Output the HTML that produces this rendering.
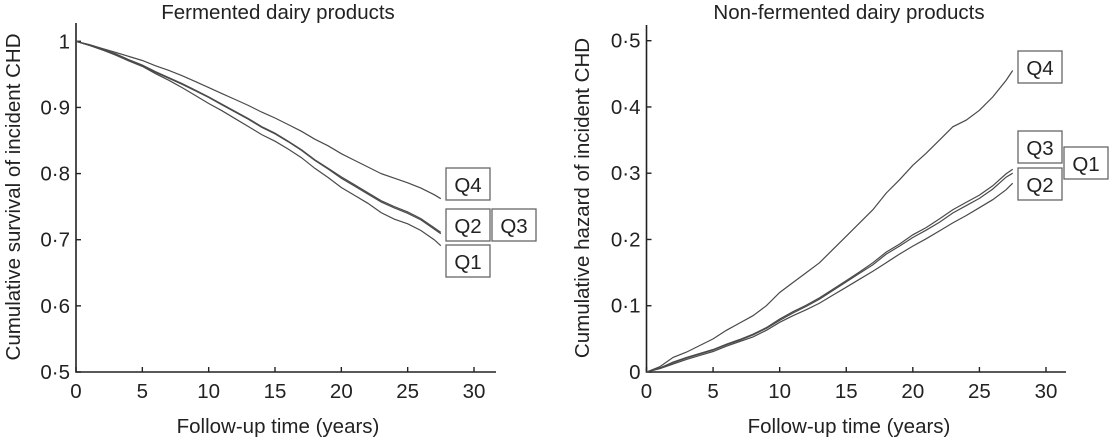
<!DOCTYPE html>
<html><head><meta charset="utf-8"><style>
body{margin:0;background:#fff;}
svg{display:block;font-family:"Liberation Sans",Arial,sans-serif;}
</style></head><body>
<svg id="chart" width="1109" height="438" viewBox="0 0 1109 438">
</svg>
<script>
const years = [0,1,2,3,4,5,6,7,8,9,10,11,12,13,14,15,16,17,18,19,20,21,22,23,24,25,26,27,27.5];
// Left: cumulative survival
const survQ4 = [1,0.995,0.989,0.983,0.977,0.971,0.963,0.956,0.948,0.939,0.930,0.921,0.912,0.903,0.893,0.884,0.874,0.864,0.852,0.842,0.830,0.820,0.810,0.800,0.793,0.786,0.778,0.768,0.762];
const survQ2 = [1,0.994,0.987,0.980,0.971,0.963,0.953,0.944,0.935,0.925,0.915,0.904,0.893,0.882,0.870,0.860,0.848,0.835,0.820,0.807,0.793,0.781,0.769,0.757,0.748,0.740,0.730,0.716,0.709];
const survQ3 = [1,0.994,0.988,0.981,0.972,0.964,0.954,0.945,0.936,0.926,0.916,0.905,0.894,0.883,0.871,0.861,0.849,0.836,0.821,0.808,0.795,0.783,0.771,0.759,0.750,0.742,0.732,0.718,0.711];
const survQ1 = [1,0.994,0.987,0.979,0.970,0.962,0.951,0.941,0.930,0.918,0.906,0.895,0.883,0.871,0.859,0.849,0.837,0.824,0.808,0.794,0.779,0.767,0.755,0.741,0.731,0.724,0.714,0.700,0.691];
// Right: cumulative hazard
const hazQ4 = [0,0.008,0.022,0.030,0.040,0.050,0.063,0.074,0.085,0.100,0.120,0.135,0.150,0.165,0.185,0.205,0.225,0.245,0.270,0.290,0.312,0.330,0.350,0.370,0.380,0.395,0.415,0.440,0.455];
const hazQ1 = [0,0.006,0.014,0.021,0.027,0.033,0.041,0.048,0.056,0.066,0.078,0.089,0.099,0.110,0.123,0.136,0.149,0.162,0.178,0.190,0.203,0.214,0.226,0.240,0.251,0.262,0.276,0.294,0.300];
const hazQ3 = [0,0.006,0.015,0.022,0.028,0.034,0.042,0.049,0.057,0.067,0.080,0.091,0.101,0.112,0.125,0.138,0.151,0.165,0.181,0.193,0.207,0.218,0.231,0.245,0.256,0.267,0.281,0.299,0.306];
const hazQ2 = [0,0.005,0.012,0.019,0.025,0.031,0.039,0.046,0.053,0.063,0.075,0.085,0.094,0.104,0.116,0.128,0.140,0.152,0.165,0.178,0.190,0.201,0.213,0.225,0.236,0.248,0.260,0.275,0.285];
const xTicks = [0,5,10,15,20,25,30];
const survTicks = [0.5,0.6,0.7,0.8,0.9,1];
const survTickLabels = ["0·5","0·6","0·7","0·8","0·9","1"];
const hazTicks = [0,0.1,0.2,0.3,0.4,0.5];
const hazTickLabels = ["0","0·1","0·2","0·3","0·4","0·5"];

const NS="http://www.w3.org/2000/svg";
const svg=document.getElementById('chart');
const FS=20.5;
function mk(tag,attrs,parent){const e=document.createElementNS(NS,tag);for(const k in attrs)e.setAttribute(k,attrs[k]);(parent||svg).appendChild(e);return e;}
function txt(parent,x,y,anchor,str,rot){
  const t=mk('text',{x:0,y:0,'text-anchor':anchor,'font-size':FS,fill:'#222',
    transform:rot?`translate(${x},${y}) rotate(-90)`:`translate(${x},${y})`},parent);
  t.textContent=str;
  return t;
}

function panel(cfg){
  const g=mk('g',{});
  
  
  const sx=v=>cfg.x0+v*(cfg.x30-cfg.x0)/30;
  const sy=v=>cfg.yb+(v-cfg.ymin)*(cfg.yt-cfg.yb)/(cfg.ymax-cfg.ymin);
  const ax=mk('path',{d:`M${cfg.x0},${cfg.top} V${cfg.yb} H${cfg.xend}`,fill:'none',stroke:'#222','stroke-width':1.6},g);
  
  
  xTicks.forEach(t=>{
    const x=sx(t);
    const tk=mk('line',{x1:x,x2:x,y1:cfg.yb,y2:cfg.yb-5,stroke:'#222','stroke-width':1.4},g);
    
    
    const tl=txt(g,x,398,'middle',String(t));
    
    
  });
  cfg.yTicks.forEach((t,i)=>{
    const y=sy(t);
    const tk=mk('line',{x1:cfg.x0,x2:cfg.x0+5,y1:y,y2:y,stroke:'#222','stroke-width':1.4},g);
    
    
    const tl=txt(g,cfg.x0-6,y+7,'end',cfg.yLabels[i]);
    
    
  });
  const ti=txt(g,cfg.tx,19,'middle',cfg.title);
  
  
  const xt=txt(g,cfg.tx,433,'middle','Follow-up time (years)');
  
  
  const yt=txt(g,cfg.ytx,cfg.yty,'middle',cfg.ytitle,true);
  
  
  cfg.series.forEach(s=>{
    const pts=years.map((t,i)=>sx(t).toFixed(1)+','+sy(s.v[i]).toFixed(1)).join(' ');
    const pl=mk('polyline',{points:pts,fill:'none',stroke:'#4a4a4a','stroke-width':1.2},g);
    
    
  });
  cfg.boxes.forEach(b=>{
    const r=mk('rect',{x:b[1],y:b[2],width:44,height:32,fill:'#fff',stroke:'#666','stroke-width':1.3},g);
    
    
    const tx=txt(g,b[1]+22,b[2]+24,'middle',b[0]);
    
    
  });
}
panel({name:'fermented-panel',x0:76,x30:474,xend:496,top:23,yb:372,yt:41.3,ymin:0.5,ymax:1,
  yTicks:survTicks,yLabels:survTickLabels,title:'Fermented dairy products',tx:278,
  ytitle:'Cumulative survival of incident CHD',ytx:20,yty:197,
  series:[{n:'Q4',v:survQ4},{n:'Q2',v:survQ2},{n:'Q3',v:survQ3},{n:'Q1',v:survQ1}],
  boxes:[['Q4',446,168],['Q2',446,209],['Q3',492,209],['Q1',446,245]]});
panel({name:'non-fermented-panel',x0:646.5,x30:1046,xend:1066,top:25,yb:372,yt:40.7,ymin:0,ymax:0.5,
  yTicks:hazTicks,yLabels:hazTickLabels,title:'Non-fermented dairy products',tx:849,
  ytitle:'Cumulative hazard of incident CHD',ytx:589,yty:198,
  series:[{n:'Q4',v:hazQ4},{n:'Q1',v:hazQ1},{n:'Q3',v:hazQ3},{n:'Q2',v:hazQ2}],
  boxes:[['Q4',1018,51],['Q3',1018,131],['Q1',1064,147],['Q2',1018,168]]});
</script>
</body></html>
